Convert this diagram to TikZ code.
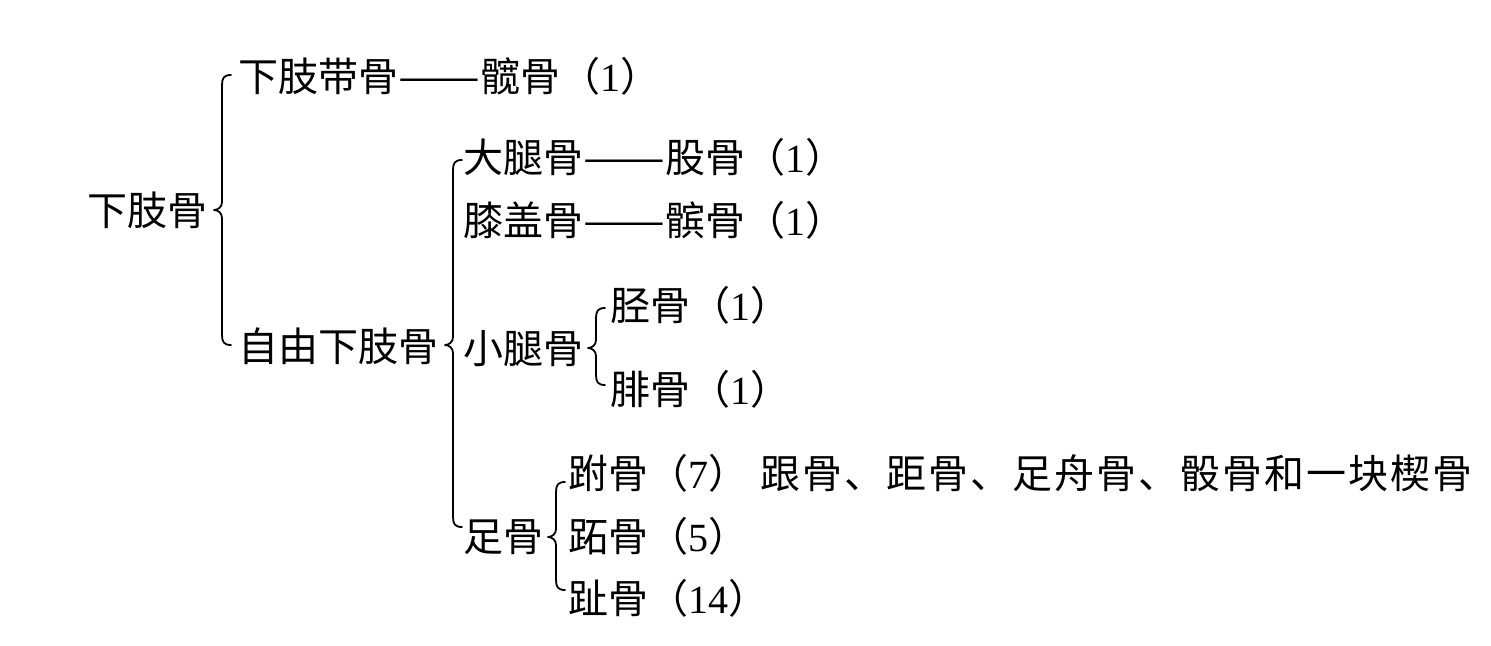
\documentclass[tikz,border=0pt]{standalone}
\usepackage{fontspec}
\setmainfont{Noto Sans CJK SC}
\newfontfamily\digitfont{Liberation Serif}
\newcommand\dg[1]{{\digitfont #1}}
\newcommand\dsh{\scalebox{1.22}[1]{——}}
\newcommand\mybrace[4]{% vertical x, top y, tip y, bottom y
  \draw[bracestyle] ({#1+9},#2) .. controls ({#1+2},#2) and (#1,{#2+3}) .. (#1,{#2+10})
    -- (#1,{#3-8}) .. controls (#1,{#3-3}) and ({#1-4},#3) .. ({#1-8},#3)
    .. controls ({#1-4},#3) and (#1,{#3+3}) .. (#1,{#3+8})
    -- (#1,{#4-10}) .. controls (#1,{#4-3}) and ({#1+2},#4) .. ({#1+9},#4);}
\begin{document}
\begin{tikzpicture}[x=0.5pt,y=-0.5pt,
  lbl/.style={anchor=west,inner sep=0pt,font=\fontsize{20pt}{24pt}\selectfont},
  bracestyle/.style={line width=0.9pt,line cap=round,line join=round}]
\useasboundingbox (0,0) rectangle (1491,646);
\node[lbl] (root) at (87,210) {下肢骨};
\node[lbl] (dzdg) at (238,76) {下肢带骨\dsh 髋骨（\dg{1}）};
\node[lbl] (zyxzg) at (238,346) {自由下肢骨};
\node[lbl] (dtg) at (463,157) {大腿骨\dsh 股骨（\dg{1}）};
\node[lbl] (xgg) at (463,220) {膝盖骨\dsh 髌骨（\dg{1}）};
\node[lbl] (xtg) at (463,349) {小腿骨};
\node[lbl] (jg) at (610,305) {胫骨（\dg{1}）};
\node[lbl] (fg) at (610,389) {腓骨（\dg{1}）};
\node[lbl] (zg) at (463,537) {足骨};
\node[lbl] (fug) at (568,473) {跗骨（\dg{7}）\hspace{6pt}{\addfontfeatures{LetterSpace=5}跟骨、距骨、足舟骨、骰骨和一块楔骨}};
\node[lbl] (zhig) at (568,536) {跖骨（\dg{5}）};
\node[lbl] (zhg) at (568,598) {趾骨（\dg{14}）};
\mybrace{222}{75}{210}{345}
\mybrace{453}{160}{345}{527}
\mybrace{596}{308}{348}{385}
\mybrace{556}{482}{537}{590}
\end{tikzpicture}
\end{document}
